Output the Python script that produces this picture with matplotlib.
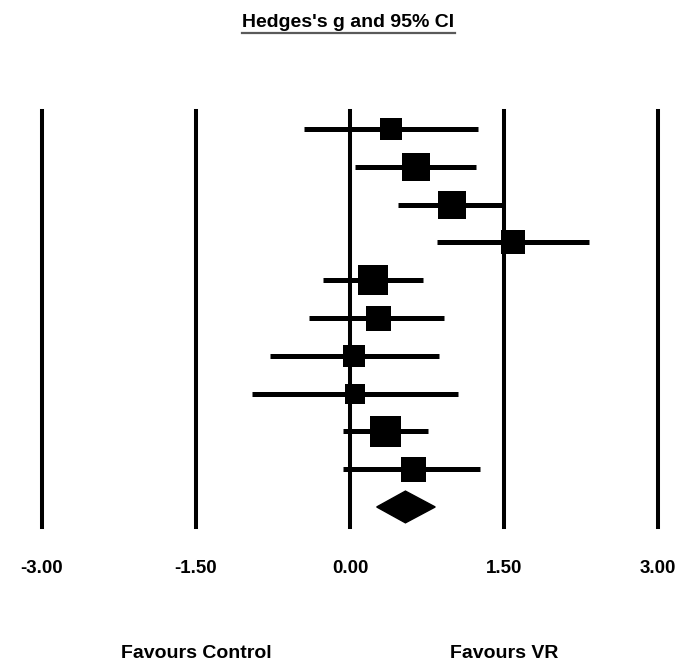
import numpy as np
import matplotlib
matplotlib.use("Agg")
import matplotlib.pyplot as plt
from matplotlib.lines import Line2D
from matplotlib.patches import Polygon
import matplotlib.transforms as mtransforms

plt.rcParams['font.family'] = ['Liberation Sans', 'DejaVu Sans']

# effect sizes (Hedges's g) with 95% CI, one per study, top to bottom
g_values = [0.40, 0.64, 0.99, 1.59, 0.22, 0.27, 0.04, 0.05, 0.34, 0.61]
ci_lower = [-0.45, 0.05, 0.47, 0.85, -0.26, -0.40, -0.78, -0.95, -0.07, -0.07]
ci_upper = [1.25, 1.23, 1.49, 2.33, 0.71, 0.92, 0.87, 1.05, 0.76, 1.27]
box_px = [22, 28, 28, 24, 30, 25, 23, 20, 31, 25]  # square size ~ study weight

# pooled estimate (diamond)
pooled_g = 0.54
pooled_lower = 0.26
pooled_upper = 0.83

ticks = [-3.0, -1.5, 0.0, 1.5, 3.0]
tick_labels = ["-3.00", "-1.50", "0.00", "1.50", "3.00"]

W, H = 690, 664
fig = plt.figure(figsize=(W / 100, H / 100), dpi=100)

# axes placed in pixels: x -3..3 spans 42..658, y spans 111..527
ax = fig.add_axes([42 / W, (H - 527) / H, 616 / W, 416 / H])
ax.set_xlim(-3, 3)
ax.set_ylim(10.53, -0.476)
ax.axis("off")

# vertical reference lines
for t in ticks:
    ax.axvline(t, color="black", lw=2.9, clip_on=False, zorder=1)

n = len(g_values)
rows = np.arange(n)
ax.hlines(rows, ci_lower, ci_upper, color="black", lw=3.6, zorder=2)
for i in range(n):
    ax.plot(g_values[i], rows[i], marker="s", color="black",
            markersize=box_px[i] * 0.72, markeredgewidth=0, zorder=3)

# diamond for the pooled effect
dy = 0.42
diamond = Polygon([[pooled_lower, n], [pooled_g, n - dy],
                   [pooled_upper, n], [pooled_g, n + dy]],
                  closed=True, color="black", zorder=3)
ax.add_patch(diamond)

# tick labels under the lines
trans = mtransforms.blended_transform_factory(ax.transData, fig.transFigure)
for t, lab in zip(ticks, tick_labels):
    ax.text(t, (H - 573) / H, lab, transform=trans, ha="center", va="baseline",
            fontsize=13.5, fontweight="bold", clip_on=False)

ax.text(-1.5, (H - 658) / H, "Favours Control", transform=trans, ha="center",
        va="baseline", fontsize=14, fontweight="bold", clip_on=False)
ax.text(1.5, (H - 658) / H, "Favours VR", transform=trans, ha="center",
        va="baseline", fontsize=14, fontweight="bold", clip_on=False)

# underlined title
title = fig.text(348.5 / W, (H - 27) / H, "Hedges's g and 95% CI", ha="center",
                 va="baseline", fontsize=14, fontweight="bold")
fig.canvas.draw()
bb = title.get_window_extent()
y_line = (H - 32.5) / H
fig.add_artist(Line2D([bb.x0 / W, bb.x1 / W], [y_line, y_line],
                      color="#5a5a5a", lw=1.6, transform=fig.transFigure))

fig.savefig("out.png", dpi=100)
